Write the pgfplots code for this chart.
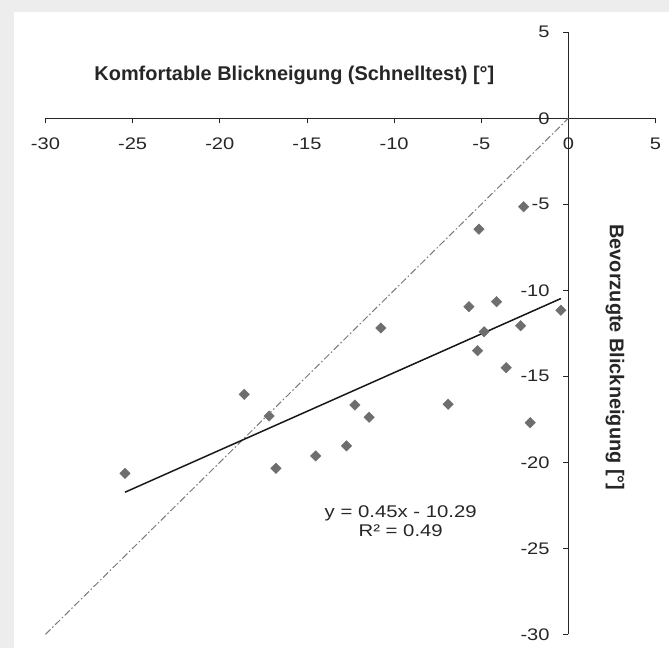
\documentclass[border=0pt]{standalone}
\usepackage{pgfplots}
\pgfplotsset{compat=1.18}
\usepackage{fontspec}
\setmainfont{Liberation Sans}
\definecolor{markgray}{HTML}{6E6E6E}
\definecolor{dashgray}{HTML}{7A7A7A}
\definecolor{framegray}{HTML}{EDEDED}
\definecolor{txt}{HTML}{262626}
\begin{document}
\begin{tikzpicture}
\path[use as bounding box, fill=framegray] (0,0) rectangle (669bp,648bp);
\fill[white] (14bp,0) rectangle (669bp,636bp);
\begin{axis}[
  at={(45.5bp,13.7bp)}, anchor=south west,
  x=17.43bp, y=17.2bp,
  xmin=-30, xmax=5, ymin=-30, ymax=5,
  enlargelimits=false, clip=false,
  axis lines=middle,
  axis line style={-, draw=black!85, line width=0.8bp},
  xtick={-30,-25,-20,-15,-10,-5,0,5},
  ytick={-30,-25,-20,-15,-10,-5,0,5},
  xticklabels={-30,-25,-20,-15,-10,-5,0,5},
  yticklabels={-30,-25,-20,-15,-10,-5,0,5},
  hide obscured x ticks=false, hide obscured y ticks=false,
  major tick length=5bp,
  tick align=outside,
  tick style={draw=black!85, line width=0.8bp},
  every tick label/.append style={font=\fontsize{16.8}{18}\selectfont, text=txt, xscale=1.2},
  xticklabel style={anchor=north, yshift=-11bp},
  yticklabel style={anchor=east, xshift=-8bp},
]
\addplot[dashgray, line width=1bp, dash pattern=on 7bp off 2.5bp on 1.5bp off 2.5bp] coordinates {(-30,-30) (0,0)};
\addplot[black!90, line width=1.5bp] coordinates {(-25.44,-21.74) (-0.43,-10.48)};
\addplot[only marks, mark=square*, mark size=3.7bp, mark options={rotate=45, fill=markgray, draw=markgray}] coordinates {
(-25.44,-20.64) (-18.60,-16.05) (-17.17,-17.31) (-16.78,-20.35) (-14.50,-19.63)
(-12.73,-19.05) (-12.25,-16.67) (-11.43,-17.38) (-10.76,-12.19) (-6.90,-16.63)
(-5.71,-10.95) (-5.21,-13.51) (-5.13,-6.45) (-4.83,-12.41) (-4.12,-10.66)
(-3.57,-14.50) (-2.74,-12.06) (-2.57,-5.14) (-2.19,-17.70) (-0.43,-11.16)
};
\node[anchor=base, font=\bfseries\fontsize{20}{22}\selectfont, text=txt] at (axis cs:-15.72,2.17) {Komfortable Blickneigung (Schnelltest) [°]};
\node[anchor=base, font=\bfseries\fontsize{20}{22}\selectfont, text=txt, rotate=-90] at (axis cs:2.38,-13.9) {Bevorzugte Blickneigung [°]};
\node[anchor=base, font=\fontsize{17}{19}\selectfont, text=txt, xscale=1.2] at (axis cs:-9.62,-23.22) {y = 0.45x - 10.29};
\node[anchor=base, font=\fontsize{17}{19}\selectfont, text=txt, xscale=1.2] at (axis cs:-9.62,-24.33) {R² = 0.49};
\end{axis}
\end{tikzpicture}
\end{document}
